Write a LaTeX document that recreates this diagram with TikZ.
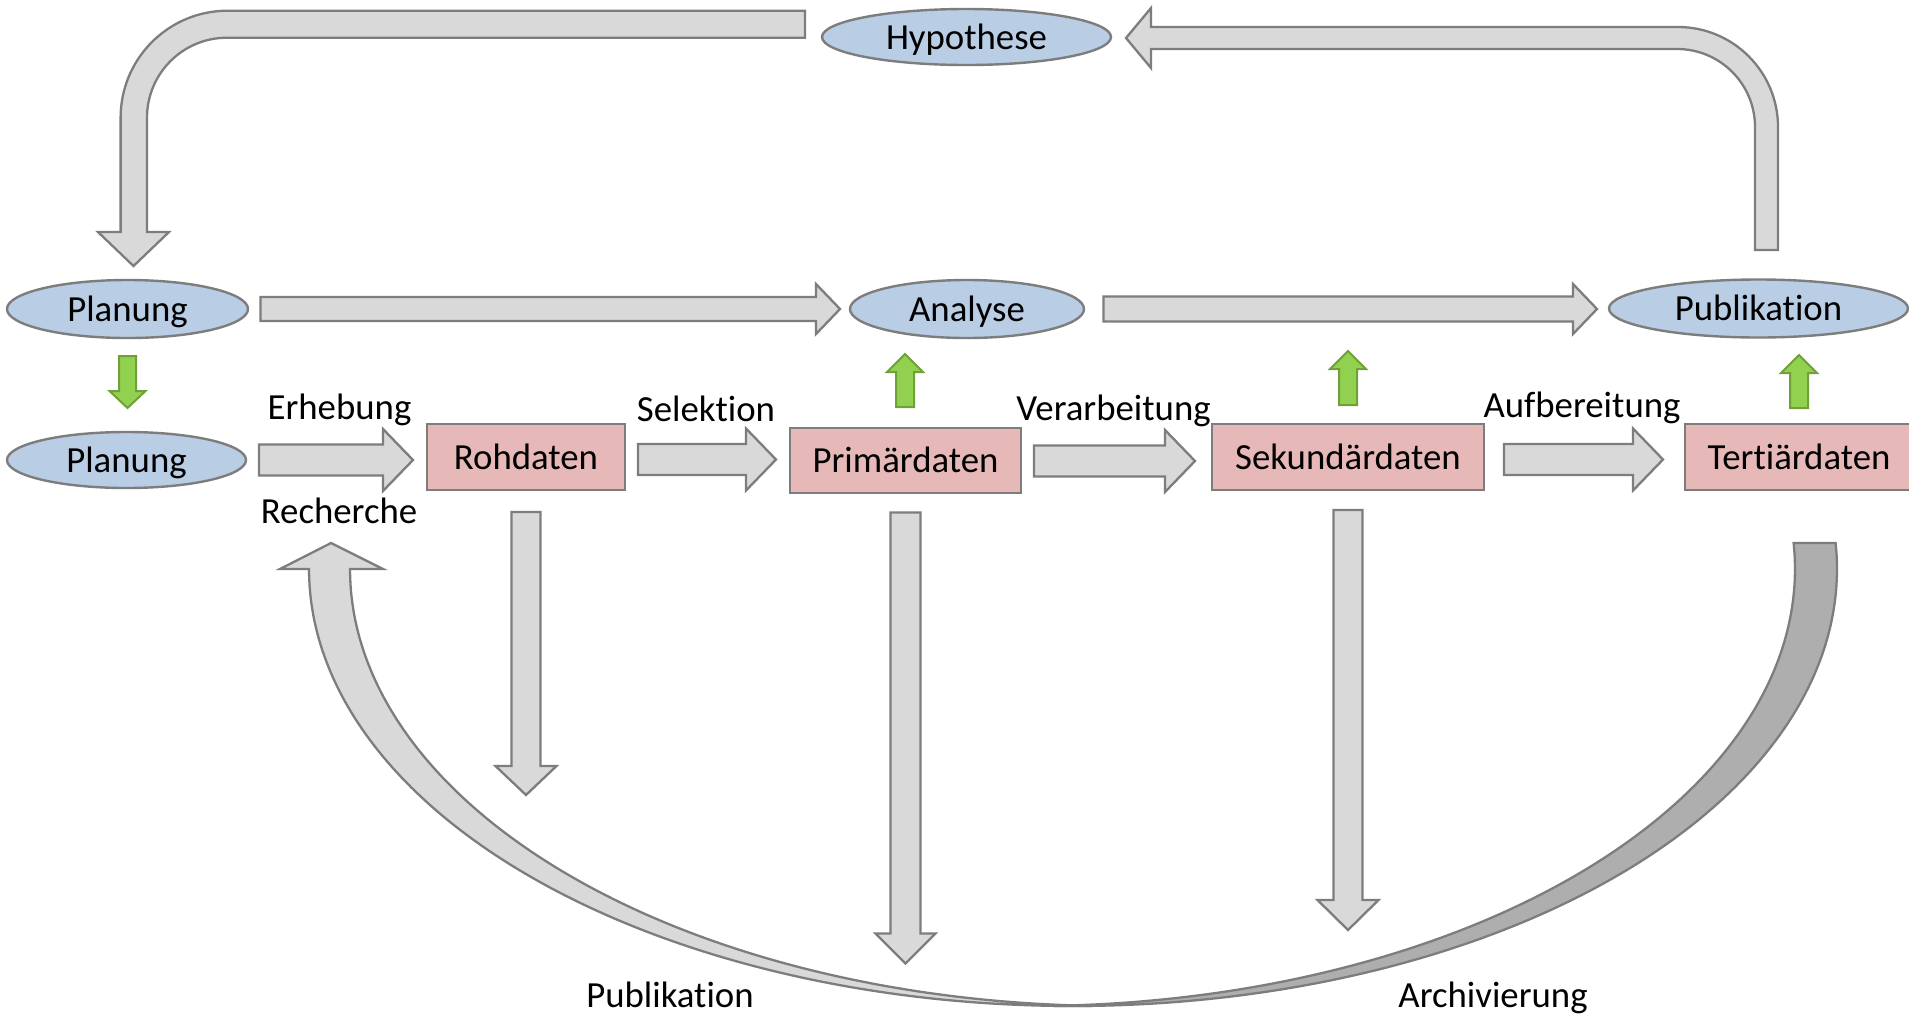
\documentclass[tikz,border=0pt]{standalone}
\usepackage{fontspec}
\setmainfont{Carlito}[Ligatures={NoCommon,NoContextual}]
\usetikzlibrary{calc,shapes.geometric}
\definecolor{bordergray}{RGB}{125,125,125}
\definecolor{arrowgray}{RGB}{217,217,217}
\definecolor{darkband}{RGB}{174,174,174}
\definecolor{ellblue}{RGB}{185,205,229}
\definecolor{rosefill}{RGB}{230,185,184}
\definecolor{greenfill}{RGB}{146,208,80}
\definecolor{greenborder}{RGB}{112,160,56}
\newcommand{\blockarrow}[6][]{%
  \coordinate (bahead) at ($(#3)!#6!(#2)$);
  \draw[#1] ($(#2)!#4!90:(#3)$) -- ($(bahead)!#4!90:(#3)$) -- ($(bahead)!#5!90:(#3)$) -- (#3)
    -- ($(bahead)!#5!-90:(#3)$) -- ($(bahead)!#4!-90:(#3)$) -- ($(#2)!#4!-90:(#3)$) -- cycle;}
\tikzset{
  ell/.style={ellipse, draw=bordergray, line width=2.4pt, fill=ellblue, inner sep=0pt, outer sep=0pt, text height=30pt, text depth=6pt},
  rbox/.style={rectangle, draw=bordergray, line width=2.4pt, fill=rosefill, inner sep=0pt, outer sep=0pt, text height=30pt, text depth=6pt},
  lbl/.style={inner sep=0pt, outer sep=0pt},
  grayarrow/.style={draw=bordergray, fill=arrowgray, line width=2.3pt},
  darkarrow/.style={draw=bordergray, fill=darkband, line width=2.3pt},
  greenarrow/.style={draw=greenborder, fill=greenfill, line width=2pt}
}
\begin{document}
\begin{tikzpicture}[x=1pt, y=-1pt, font=\fontsize{36.8}{44}\selectfont]
\useasboundingbox (0,0) rectangle (1909,1013);
\fill[white] (0,0) rectangle (1909,1013);

% curved return arrow (back, dark part)
\draw[darkarrow] plot[domain=-3.41:91.575, samples=120, variable=\t] ({1073+764*cos(\t)},{569+437*sin(\t)})
  -- plot[domain=88.425:-3.41, samples=120, variable=\t] ({1031+764*cos(\t)},{569+437*sin(\t)}) -- cycle;
% curved return arrow (front, light part with head)
\draw[grayarrow] plot[domain=180:88.46, samples=120, variable=\t] ({1073+764*cos(\t)},{569+437*sin(\t)})
  -- plot[domain=91.54:180, samples=120, variable=\t] ({1114+764*cos(\t)},{569+437*sin(\t)})
  -- (383,569) -- (331,543) -- (280,569) -- cycle;

% nodes
\node[ell, minimum width=289pt, minimum height=56pt] (hyp) at (966.5,37) {Hypothese};
\node[ell, minimum width=241pt, minimum height=58pt] (planT) at (127.5,309) {Planung};
\node[ell, minimum width=234pt, minimum height=58pt] (ana) at (967,309) {Analyse};
\node[ell, minimum width=299pt, minimum height=58pt] (pub) at (1758.5,308.5) {Publikation};
\node[ell, minimum width=239pt, minimum height=56pt] (planB) at (126.5,460) {Planung};
\node[rbox, minimum width=198pt, minimum height=66pt] (roh) at (526,457) {Rohdaten};
\node[rbox, minimum width=231pt, minimum height=65pt] (prim) at (905.5,460.5) {Primärdaten};
\node[rbox, minimum width=272pt, minimum height=66pt] (sek) at (1348,457) {Sekundärdaten};
\node[rbox, minimum width=228pt, minimum height=66pt] (ter) at (1799,457) {Tertiärdaten};

% labels
\node[lbl, anchor=base] (erh) at (339.5,419) {Erhebung};
\node[lbl, anchor=base] (rec) at (339,523) {Recherche};
\node[lbl, anchor=base] (sel) at (706,421) {Selektion};
\node[lbl, anchor=base] (ver) at (1113.5,420) {Verarbeitung};
\node[lbl, anchor=base] (auf) at (1582,417) {Aufbereitung};
\node[lbl, anchor=base] (pubB) at (670,1007) {Publikation};
\node[lbl, anchor=base] (archiv) at (1493,1007) {Archivierung};

% bent arrows at the top
\draw[grayarrow] (805,10.7) -- (227.6,10.7) .. controls (168.5,10.7) and (120.6,58.6) .. (120.6,117.7)
  -- (120.6,232) -- (98,232) -- (133.5,266) -- (169,232) -- (147,232) -- (147,117.7)
  .. controls (147,73.5) and (182.8,37.7) .. (227,37.7) -- (805,37.7) -- cycle;
\draw[grayarrow] (1755,250) -- (1778,250) -- (1778,127) .. controls (1778,71.8) and (1733.2,27) .. (1678,27)
  -- (1151,27) -- (1151,8) -- (1126,38) -- (1151,68) -- (1151,49) -- (1677,49)
  .. controls (1720.1,49) and (1755,83.9) .. (1755,127) -- cycle;

% connector coordinates
\coordinate (r1as) at ($(planT.east)+(12.5,0)$);
\coordinate (r1ae) at ($(ana.west)+(-10,0)$);
\coordinate (r1bs) at ($(ana.east)+(19.5,0)$);
\coordinate (r1be) at ($(pub.west)+(-12,0.5)$);
\coordinate (r2as) at ($(planB.east)+(13,0)$);
\coordinate (r2ae) at ($(roh.west)+(-14,3)$);
\coordinate (r2bs) at ($(roh.east)+(13,2.5)$);
\coordinate (r2be) at ($(prim.west)+(-14,-1)$);
\coordinate (r2cs) at ($(prim.east)+(13,0.5)$);
\coordinate (r2ce) at ($(sek.west)+(-17,4)$);
\coordinate (r2ds) at ($(sek.east)+(20,2.5)$);
\coordinate (r2de) at ($(ter.west)+(-22,2.5)$);
\coordinate (dRs) at ($(roh.south)+(0,22)$);
\coordinate (dRe) at ($(roh.south)+(0,305)$);
\coordinate (dPs) at ($(prim.south)+(0,19.5)$);
\coordinate (dPe) at ($(prim.south)+(0,470.5)$);
\coordinate (dSs) at ($(sek.south)+(0,20)$);
\coordinate (dSe) at ($(sek.south)+(0,440)$);
\coordinate (gPs) at ($(planT.south)+(0,18)$);
\coordinate (gPe) at ($(planB.north)+(1,-24)$);
\coordinate (gAs) at ($(prim.north)+(-0.5,-21)$);
\coordinate (gAe) at ($(prim.north)+(-0.5,-74)$);
\coordinate (gSs) at ($(sek.north)+(0,-19)$);
\coordinate (gSe) at ($(sek.north)+(0,-73)$);
\coordinate (gTs) at ($(ter.north)+(0,-16)$);
\coordinate (gTe) at ($(ter.north)+(0,-69)$);

% gray block arrows
\blockarrow[grayarrow]{r1as}{r1ae}{12pt}{25pt}{24pt}
\blockarrow[grayarrow]{r1bs}{r1be}{12.5pt}{25pt}{24pt}
\blockarrow[grayarrow]{r2as}{r2ae}{15.5pt}{31pt}{30pt}
\blockarrow[grayarrow]{r2bs}{r2be}{15.5pt}{31pt}{30pt}
\blockarrow[grayarrow]{r2cs}{r2ce}{15.5pt}{31pt}{30pt}
\blockarrow[grayarrow]{r2ds}{r2de}{15.5pt}{31pt}{30pt}
\blockarrow[grayarrow]{dRs}{dRe}{14.5pt}{30.5pt}{29pt}
\blockarrow[grayarrow]{dPs}{dPe}{15pt}{30pt}{30pt}
\blockarrow[grayarrow]{dSs}{dSe}{14.5pt}{30.5pt}{30pt}

% green arrows
\blockarrow[greenarrow]{gPs}{gPe}{8.5pt}{18pt}{17pt}
\blockarrow[greenarrow]{gAs}{gAe}{9pt}{18pt}{18pt}
\blockarrow[greenarrow]{gSs}{gSe}{9pt}{18pt}{18pt}
\blockarrow[greenarrow]{gTs}{gTe}{9pt}{18pt}{18pt}
\end{tikzpicture}
\end{document}
